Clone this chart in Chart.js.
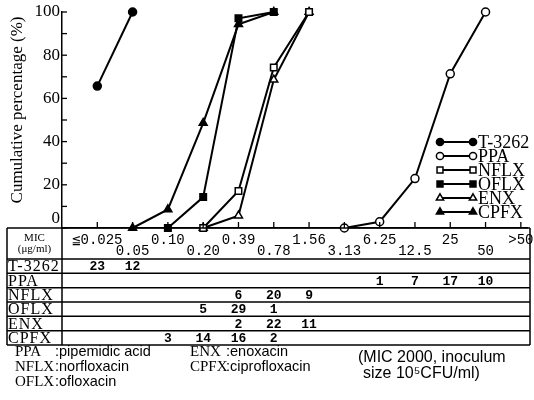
<!DOCTYPE html>
<html>
<head>
<meta charset="utf-8">
<script src="https://cdn.jsdelivr.net/npm/chart.js@4.4.0/dist/chart.umd.min.js"></script>
<style>
   html, body { margin: 0; padding: 0; background: #fff; }
</style>
</head>
<body>
<canvas id="myChart" width="534" height="400"></canvas>
<script>
// MIC columns (x categories), also the table header
const micLabels = ['≦0.025', '0.05', '0.10', '0.20', '0.39', '0.78', '1.56', '3.13', '6.25', '12.5', '25', '50', '>50'];
const drugNames = ['T-3262', 'PPA', 'NFLX', 'OFLX', 'ENX', 'CPFX'];
const yLabels = [0, 20, 40, 60, 80, 100];

// cumulative percentage, one value per MIC column (null = no point)
const t3262Pct = [65.7, 100, null, null, null, null, null, null, null, null, null, null, null];
const ppaPct   = [null, null, null, null, null, null, null, 0, 2.9, 22.9, 71.4, 100, null];
const nflxPct  = [null, null, null, 0, 17.1, 74.3, 100, null, null, null, null, null, null];
const oflxPct  = [null, null, 0, 14.3, 97.1, 100, null, null, null, null, null, null, null];
const enxPct   = [null, null, null, 0, 5.7, 68.6, 100, null, null, null, null, null, null];
const cpfxPct  = [null, 0, 8.6, 48.6, 94.3, 100, null, null, null, null, null, null, null];

// number of strains per MIC column (table)
const t3262Cnt = [23, 12, null, null, null, null, null, null, null, null, null, null, null];
const ppaCnt   = [null, null, null, null, null, null, null, null, 1, 7, 17, 10, null];
const nflxCnt  = [null, null, null, null, 6, 20, 9, null, null, null, null, null, null];
const oflxCnt  = [null, null, null, 5, 29, 1, null, null, null, null, null, null, null];
const enxCnt   = [null, null, null, null, 2, 22, 11, null, null, null, null, null, null];
const cpfxCnt  = [null, null, 3, 14, 16, 2, null, null, null, null, null, null, null];

const footLeft = [['PPA', ':pipemidic acid'], ['NFLX', ':norfloxacin'], ['OFLX', ':ofloxacin']];
const footMid = [['ENX', ':enoxacin'], ['CPFX', ':ciprofloxacin']];
const footRight = ['(MIC 2000, inoculum', 'size 10⁵CFU/ml)'];

const SERIF = "'Liberation Serif', 'DejaVu Serif', serif";
const SANS = "'Liberation Sans', 'DejaVu Sans', sans-serif";
const MONO = "'Liberation Mono', 'DejaVu Sans Mono', monospace";

function toPoints(arr) {
   return arr.map((v, i) => v == null ? null : { x: i, y: v }).filter(p => p);
}

function makeSet(label, pct, style, filled) {
   return {
      label: label,
      data: toPoints(pct),
      borderColor: '#000',
      borderWidth: 2,
      pointStyle: style,
      pointRadius: style === 'circle' ? 4 : 4.6,
      pointBorderWidth: 1.5,
      pointBorderColor: '#000',
      pointBackgroundColor: filled ? '#000' : '#fff',
      pointHoverRadius: 4,
      tension: 0,
      clip: false
   };
}

const counts = [t3262Cnt, ppaCnt, nflxCnt, oflxCnt, enxCnt, cpfxCnt];

function hline(ctx, x1, x2, y) { ctx.beginPath(); ctx.moveTo(x1, y); ctx.lineTo(x2, y); ctx.stroke(); }
function vline(ctx, x, y1, y2) { ctx.beginPath(); ctx.moveTo(x, y1); ctx.lineTo(x, y2); ctx.stroke(); }

const extras = {
   id: 'extras',
   afterDraw(chart) {
      const { ctx, chartArea: a, scales: { x, y } } = chart;
      ctx.save();
      ctx.strokeStyle = '#000';
      ctx.fillStyle = '#000';
      ctx.lineWidth = 1.3;

      // tick marks, pointing inward
      y.ticks.forEach(t => hline(ctx, a.left, a.left + 5, y.getPixelForValue(t.value)));
      micLabels.forEach((l, i) => vline(ctx, x.getPixelForValue(i), a.bottom, a.bottom - 6));

      // y labels
      ctx.font = '17px ' + SERIF;
      ctx.textAlign = 'right';
      ctx.textBaseline = 'middle';
      yLabels.forEach(v => {
         let py = y.getPixelForValue(v);
         if (v === 0) py -= 9; // 0 sits above the table line
         ctx.fillText(String(v), a.left - 2, py);
      });

      // y title
      ctx.save();
      ctx.translate(18, (a.top + a.bottom) / 2 - 10);
      ctx.rotate(-Math.PI / 2);
      ctx.textAlign = 'center';
      ctx.font = '17px ' + SERIF;
      ctx.fillText('Cumulative percentage (%)', 0, 0);
      ctx.restore();

      // legend
      const ds = chart.data.datasets;
      ds.forEach((d, i) => {
         const ly = 142 + i * 14;
         ctx.lineWidth = 2;
         hline(ctx, 440, 473, ly);
         [440, 473].forEach(px => {
            ctx.fillStyle = d.pointBackgroundColor;
            ctx.strokeStyle = '#000';
            ctx.lineWidth = 1.5;
            Chart.helpers.drawPoint(ctx, { pointStyle: d.pointStyle, radius: d.pointRadius - 0.4, borderWidth: 1.5, rotation: 0 }, px, ly);
         });
         ctx.fillStyle = '#000';
         ctx.font = '18px ' + SERIF;
         ctx.textAlign = 'left';
         ctx.fillText(d.label, 478, ly + 1);
      });

      // table
      const tl = 7, tr = 530, tt = a.bottom, hb = 259, tb = 345;
      const rowH = (tb - hb) / drugNames.length;
      ctx.lineWidth = 1.5;
      ctx.strokeStyle = '#000';
      hline(ctx, tl, tr, tt);
      hline(ctx, tl, tr, tb);
      vline(ctx, tl, tt, tb);
      vline(ctx, tr, tt, tb);
      vline(ctx, a.left, tt, tb);
      for (let r = 0; r < drugNames.length; r++) hline(ctx, tl, tr, hb + r * rowH);

      // header
      ctx.textAlign = 'center';
      ctx.font = '11px ' + SERIF;
      ctx.fillText('MIC', (tl + a.left) / 2, 238);
      ctx.fillText('(μg/ml)', (tl + a.left) / 2, 249);
      ctx.font = '14px ' + MONO;
      micLabels.forEach((l, i) => {
         ctx.fillText(l, x.getPixelForValue(i), i % 2 === 0 ? 240 : 251);
      });

      // rows
      drugNames.forEach((n, r) => {
         const cy = hb + r * rowH + rowH / 2;
         ctx.textAlign = 'left';
         ctx.font = '16px ' + SERIF;
         ctx.letterSpacing = '1px';
         ctx.fillText(n, 8, cy + 1);
         ctx.letterSpacing = '0px';
         ctx.textAlign = 'center';
         ctx.font = 'bold 13px ' + MONO;
         counts[r].forEach((c, i) => {
            if (c != null) ctx.fillText(String(c), x.getPixelForValue(i), cy + 1);
         });
      });

      // footnotes
      ctx.textAlign = 'left';
      footLeft.forEach((f, i) => {
         const fy = 352 + i * 15;
         ctx.font = '15px ' + SERIF;
         ctx.fillText(f[0], 15, fy);
         ctx.font = '14.5px ' + SANS;
         ctx.fillText(f[1], 55, fy);
      });
      footMid.forEach((f, i) => {
         const fy = 352 + i * 15;
         ctx.font = '15px ' + SERIF;
         ctx.fillText(f[0], 190, fy);
         ctx.font = '14.5px ' + SANS;
         ctx.fillText(f[1], 226, fy);
      });
      ctx.font = '16px ' + SANS;
      ctx.fillText(footRight[0], 358, 358);
      ctx.fillText(footRight[1], 363, 374);
      ctx.restore();
   }
};

new Chart(document.getElementById('myChart').getContext('2d'), {
   type: 'line',
   data: {
      datasets: [
         makeSet('T-3262', t3262Pct, 'circle', true),
         makeSet('PPA', ppaPct, 'circle', false),
         makeSet('NFLX', nflxPct, 'rect', false),
         makeSet('OFLX', oflxPct, 'rect', true),
         makeSet('ENX', enxPct, 'triangle', false),
         makeSet('CPFX', cpfxPct, 'triangle', true)
      ]
   },
   options: {
      responsive: false,
      animation: false,
      layout: { padding: { left: 0, top: 12, right: 4, bottom: 172 } },
      plugins: { legend: { display: false }, tooltip: { enabled: false } },
      scales: {
         x: {
            type: 'linear', min: -1, max: 12.2,
            afterFit: s => { s.height = 0; },
            ticks: { display: false, stepSize: 1 },
            grid: { drawOnChartArea: false, drawTicks: false },
            border: { display: true, color: '#000', width: 1.5 }
         },
         y: {
            min: 0, max: 100,
            afterFit: s => { s.width = 62; },
            ticks: { display: false, stepSize: 10 },
            grid: { drawOnChartArea: false, drawTicks: false },
            border: { display: true, color: '#000', width: 1.5 }
         }
      }
   },
   plugins: [extras]
});
</script>
</body>
</html>
